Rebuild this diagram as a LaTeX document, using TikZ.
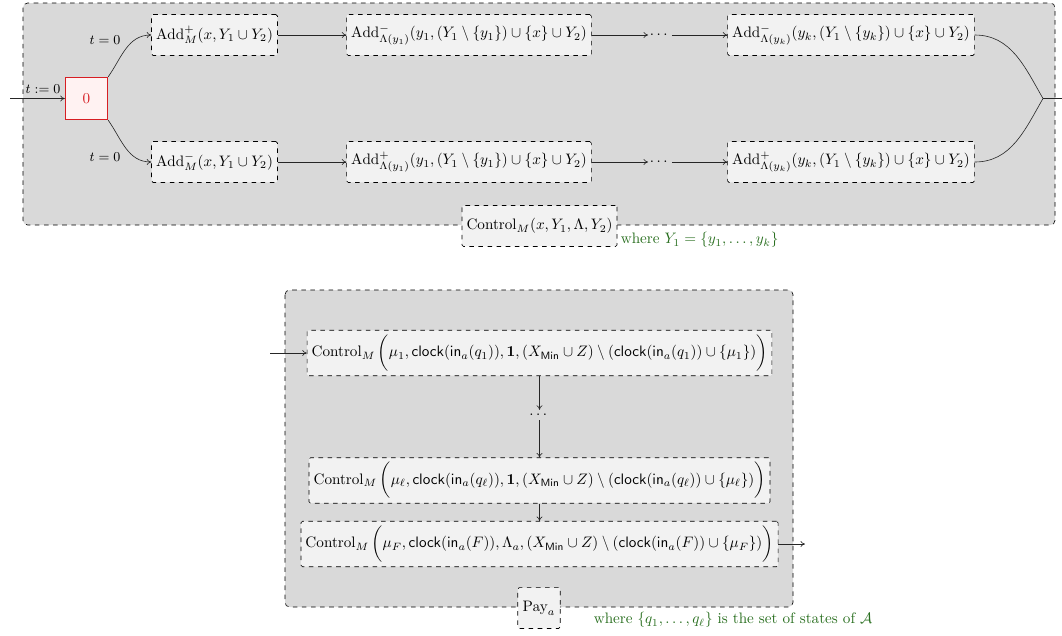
\documentclass[tikz,border=0pt]{standalone}
\usepackage{amsmath,amssymb}
\usetikzlibrary{arrows.meta}
\definecolor{wheregreen}{RGB}{40,110,30}
\definecolor{zerored}{RGB}{215,30,35}
\begin{document}
\begin{tikzpicture}[x=0.66pt,y=-0.66pt,
  every node/.style={font=\normalsize},
  container/.style={draw, dashed, rounded corners=3pt, fill=gray!30},
  gadget/.style={draw, dashed, rounded corners=1pt, fill=gray!10, minimum height=27pt, inner sep=3pt},
  zero/.style={draw=zerored, line width=0.7pt, fill=red!5, text=zerored, minimum size=28pt, inner sep=0pt},
  conn/.style={-{>[length=3pt,width=4pt]}, black!85},
  plain/.style={black!85},
  note/.style={text=wheregreen, inner sep=1pt}
]
\useasboundingbox (0,0) rectangle (1062,635);
% ---------- top gadget ----------
\draw[container] (23,3) rectangle (1055,225);
\node[zero] (z) at (86.5,98.5) {$0$};
\node[gadget] (a1) at (214.5,35) {$\mathrm{Add}^{+}_{M}(x, Y_1\cup Y_2)$};
\node[gadget] (a2) at (469,35) {$\mathrm{Add}^{-}_{\Lambda(y_1)}(y_1,(Y_1\setminus\{y_1\})\cup\{x\}\cup Y_2)$};
\node[inner sep=1pt] (ad) at (660,35) {$\cdots$};
\node[gadget] (a3) at (851,35) {$\mathrm{Add}^{-}_{\Lambda(y_k)}(y_k,(Y_1\setminus\{y_k\})\cup\{x\}\cup Y_2)$};
\node[gadget] (b1) at (214.5,162) {$\mathrm{Add}^{-}_{M}(x, Y_1\cup Y_2)$};
\node[gadget] (b2) at (469,162) {$\mathrm{Add}^{+}_{\Lambda(y_1)}(y_1,(Y_1\setminus\{y_1\})\cup\{x\}\cup Y_2)$};
\node[inner sep=1pt] (bd) at (660,162) {$\cdots$};
\node[gadget] (b3) at (851,162) {$\mathrm{Add}^{+}_{\Lambda(y_k)}(y_k,(Y_1\setminus\{y_k\})\cup\{x\}\cup Y_2)$};
\coordinate (tin) at (10,98.5);
\coordinate (m) at (1043,98.5);
\coordinate (mout) at (1062,98.5);
\node[font=\small] (tl) at (43,89) {$t:=0$};
\node[font=\small] (tu) at (105,40) {$t=0$};
\node[font=\small] (td) at (105,157) {$t=0$};
\draw[conn] (tin) -- (z.west);
\draw[conn] (z.north east) to[out=55,in=180] (a1.west);
\draw[conn] (z.south east) to[out=-55,in=180] (b1.west);
\draw[conn] (a1) -- (a2);
\draw[conn] (a2) -- (ad);
\draw[conn] (ad) -- (a3);
\draw[conn] (b1) -- (b2);
\draw[conn] (b2) -- (bd);
\draw[conn] (bd) -- (b3);
\draw[plain] (a3.east) to[out=0,in=120] (m);
\draw[plain] (b3.east) to[out=0,in=240] (m);
\draw[plain] (m) -- (mout);
\node[gadget] (ctl) at (539.5,226) {$\mathrm{Control}_{M}(x, Y_1, \Lambda, Y_2)$};
\node[note, anchor=west] (w1) at (619,240) {where $Y_1=\{y_1,\dots,y_k\}$};
% ---------- bottom gadget ----------
\draw[container] (285,290) rectangle (793,607);
\node[gadget] (c1) at (539.5,353) {$\mathrm{Control}_{M}\,\bigg(\mu_1,\mathsf{clock}(\mathsf{in}_a(q_1)),\mathbf{1},(X_{\mathsf{Min}}\cup Z)\setminus(\mathsf{clock}(\mathsf{in}_a(q_1))\cup\{\mu_1\})\bigg)$};
\node[inner sep=1pt] (cd) at (539.5,415) {$\cdots$};
\node[gadget] (cl) at (539.5,480.5) {$\mathrm{Control}_{M}\,\bigg(\mu_\ell,\mathsf{clock}(\mathsf{in}_a(q_\ell)),\mathbf{1},(X_{\mathsf{Min}}\cup Z)\setminus(\mathsf{clock}(\mathsf{in}_a(q_\ell))\cup\{\mu_\ell\})\bigg)$};
\node[gadget] (cf) at (539.5,544) {$\mathrm{Control}_{M}\,\bigg(\mu_F,\mathsf{clock}(\mathsf{in}_a(F)),\Lambda_a,(X_{\mathsf{Min}}\cup Z)\setminus(\mathsf{clock}(\mathsf{in}_a(F))\cup\{\mu_F\})\bigg)$};
\coordinate (cin) at (270,353);
\coordinate (cout) at (805,544);
\draw[conn] (cin) -- (c1.west);
\draw[conn] (c1.south) -- (cd.north);
\draw[conn] (cd.south) -- (cl.north);
\draw[conn] (cl.south) -- (cf.north);
\draw[conn] (cf.east) -- (cout);
\node[gadget, minimum width=28pt] (pay) at (539,608) {$\mathrm{Pay}_a$};
\node[note, anchor=west] (w2) at (592,620) {where $\{q_1,\dots,q_\ell\}$ is the set of states of $\mathcal{A}$};
\end{tikzpicture}
\end{document}
